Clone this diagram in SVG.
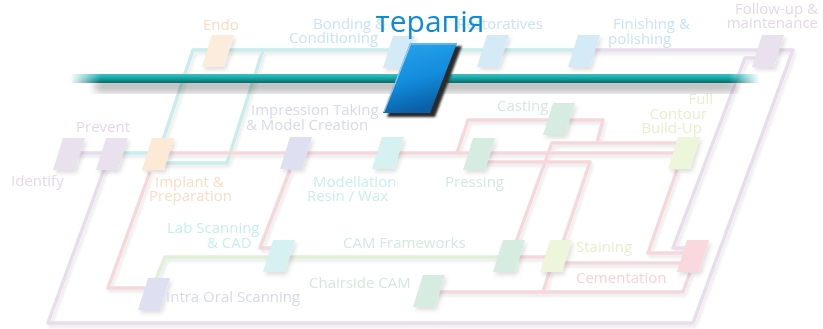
<svg xmlns="http://www.w3.org/2000/svg" width="823" height="329" viewBox="0 0 823 329">
<style>
  text { font-family: "Open Sans", "Noto Sans", "Liberation Sans", sans-serif; font-size: 15px; }
  .c { fill: none; stroke-width: 3.5; stroke-linejoin: round; stroke-linecap: butt; }
  .teal { stroke: #c9ecec; }
  .pink { stroke: #f6d8dc; }
  .lav { stroke: #e7ddec; }
  .grn { stroke: #e0efd6; }
  .t-lav { fill: #e3d9e9; }
  .t-peach { fill: #fbdcc4; }
  .t-blue { fill: #c8e4f5; }
  .t-lb { fill: #d8d8ef; }
  .t-cyan { fill: #c8eeee; }
  .t-grn { fill: #d2eadd; }
  .t-yg { fill: #e6f0cc; }
  .t-pink { fill: #f9d2d6; }
</style>
<defs>
  <path id="nd" d="M10,0 H32 L22,32 H0 Z"/>
  <filter id="sh" x="-50%" y="-50%" width="200%" height="200%">
    <feDropShadow dx="2" dy="3" stdDeviation="2" flood-color="#000" flood-opacity="0.13"/>
  </filter>
  <filter id="lsh" x="-10%" y="-10%" width="120%" height="130%">
    <feDropShadow dx="2" dy="3" stdDeviation="1.8" flood-color="#000" flood-opacity="0.08"/>
  </filter>
  <filter id="blur4"><feGaussianBlur stdDeviation="4"/></filter>
  <filter id="blur1"><feGaussianBlur stdDeviation="1.2"/></filter>
  <linearGradient id="barV" x1="0" y1="0" x2="0" y2="1">
    <stop offset="0" stop-color="#3cc4c4"/>
    <stop offset="0.45" stop-color="#16a6a6"/>
    <stop offset="1" stop-color="#086868"/>
  </linearGradient>
  <linearGradient id="barH" x1="70" y1="0" x2="760" y2="0" gradientUnits="userSpaceOnUse">
    <stop offset="0" stop-color="#fff" stop-opacity="0"/>
    <stop offset="0.045" stop-color="#fff" stop-opacity="1"/>
    <stop offset="0.955" stop-color="#fff" stop-opacity="1"/>
    <stop offset="1" stop-color="#fff" stop-opacity="0"/>
  </linearGradient>
  <mask id="barMask"><rect x="60" y="60" width="710" height="50" fill="url(#barH)"/></mask>
  <linearGradient id="blueG" x1="0" y1="0" x2="0.3" y2="1">
    <stop offset="0" stop-color="#2aa6ec"/>
    <stop offset="0.6" stop-color="#128cdc"/>
    <stop offset="1" stop-color="#0a60a8"/>
  </linearGradient>
</defs>

<g id="connectors" filter="url(#lsh)">
  <path class="c lav" d="M70,153 H110"/>
  <path class="c teal" d="M118,153 H152"/>
  <path class="c teal" d="M158,155 L193,50 H580"/>
  <path class="c teal" d="M160,163 H227 L263,50"/>
  <path class="c lav" d="M580,50 H770"/>
  <path class="c lav" d="M770,50 H793 L693,323 H48 L105,167"/>
  <path class="c lav" d="M690,248 H673 L745,58 H760"/>
  <path class="c pink" d="M165,153 H685"/>
  <path class="c pink" d="M457,153 L468,120 H603 L597,143"/>
  <path class="c pink" d="M515,245 L552,143 H690"/>
  <path class="c pink" d="M480,162 H590 L562,245"/>
  <path class="c pink" d="M150,172 L108,288 H145"/>
  <path class="c pink" d="M290,170 L260,248 H272"/>
  <path class="c pink" d="M515,257 H555"/>
  <path class="c pink" d="M555,263 H690"/>
  <path class="c pink" d="M428,292 H683 L690,273"/>
  <path class="c pink" d="M550,270 L543,292"/>
  <path class="c pink" d="M677,170 L648,253 H685"/>
  <path class="c grn" d="M155,282 L165,257 H505"/>
</g>

<g id="nodes" filter="url(#sh)">
  <g id="n-identify"><use href="#nd" x="53" y="138" fill="#e9e1ee"/></g>
  <g id="n-prevent"><use href="#nd" x="96" y="138" fill="#e9e1ee"/></g>
  <g id="n-implant"><use href="#nd" x="142" y="138" fill="#fce9d6"/></g>
  <g id="n-endo"><use href="#nd" x="202" y="35" fill="#fcecdc"/></g>
  <g id="n-impression"><use href="#nd" x="280" y="137" fill="#dedff0"/></g>
  <g id="n-modellation"><use href="#nd" x="372" y="137" fill="#d6f1f1"/></g>
  <g id="n-bonding"><use href="#nd" x="383" y="36" fill="#d5eaf7"/></g>
  <g id="n-restoratives"><use href="#nd" x="477" y="35" fill="#d5eaf7"/></g>
  <g id="n-finishing"><use href="#nd" x="568" y="35" fill="#d5eaf7"/></g>
  <g id="n-followup"><use href="#nd" x="752" y="35" fill="#e9e1ee"/></g>
  <g id="n-casting"><use href="#nd" x="543" y="103" fill="#d6ece0"/></g>
  <g id="n-pressing"><use href="#nd" x="463" y="138" fill="#d6ece0"/></g>
  <g id="n-fullcontour"><use href="#nd" x="668" y="137" fill="#edf5da"/></g>
  <g id="n-labscanning"><use href="#nd" x="263" y="240" fill="#d6f1f1"/></g>
  <g id="n-intraoral"><use href="#nd" x="138" y="278" fill="#dedff0"/></g>
  <g id="n-camframeworks"><use href="#nd" x="493" y="240" fill="#d6ece0"/></g>
  <g id="n-staining"><use href="#nd" x="540" y="240" fill="#edf5da"/></g>
  <g id="n-cementation"><use href="#nd" x="677" y="240" fill="#f9d9dd"/></g>
  <g id="n-chairside"><use href="#nd" x="413" y="275" fill="#d6ece0"/></g>
</g>

<g id="labels">
  <text class="t-lav" x="11" y="186">Identify</text>
  <text class="t-lav" x="76" y="132">Prevent</text>
  <text class="t-peach" x="203" y="30">Endo</text>
  <text class="t-blue" x="313" y="29">Bonding &amp;</text>
  <text class="t-blue" x="289" y="43">Conditioning</text>
  <text class="t-blue" x="457" y="29">Restoratives</text>
  <text class="t-blue" x="613" y="29">Finishing &amp;</text>
  <text class="t-blue" x="608" y="44">polishing</text>
  <text class="t-lav" x="818" y="14" text-anchor="end">Follow-up &amp;</text>
  <text class="t-lav" x="818" y="28" text-anchor="end">maintenance</text>
  <text class="t-lb" x="251" y="115">Impression Taking</text>
  <text class="t-lb" x="246" y="130">&amp; Model Creation</text>
  <text class="t-grn" x="497" y="111">Casting</text>
  <text class="t-yg" x="713" y="104" text-anchor="end">Full</text>
  <text class="t-yg" x="707" y="119" text-anchor="end">Contour</text>
  <text class="t-yg" x="702" y="133" text-anchor="end">Build-Up</text>
  <text class="t-peach" x="155" y="187">Implant &amp;</text>
  <text class="t-peach" x="149" y="201">Preparation</text>
  <text class="t-cyan" x="313" y="187">Modellation</text>
  <text class="t-cyan" x="307" y="201">Resin / Wax</text>
  <text class="t-grn" x="445" y="187">Pressing</text>
  <text class="t-cyan" x="167" y="233">Lab Scanning</text>
  <text class="t-cyan" x="207" y="248">&amp; CAD</text>
  <text class="t-grn" x="343" y="248">CAM Frameworks</text>
  <text class="t-grn" x="309" y="288">Chairside CAM</text>
  <text class="t-lb" x="166" y="302">Intra Oral Scanning</text>
  <text class="t-yg" x="576" y="252">Staining</text>
  <text class="t-pink" x="576" y="283">Cementation</text>
</g>

<g id="bar">
  <rect x="95" y="80" width="640" height="12" fill="#000" opacity="0.28" filter="url(#blur4)"/>
  <g mask="url(#barMask)">
    <rect x="70" y="74" width="690" height="9" fill="url(#barV)"/>
  </g>
</g>

<g id="center-node">
  <path d="M387,117 L414,46 H462 L435,117 Z" fill="#2c2c2c" filter="url(#blur1)"/>
  <path d="M383,113 L410,43 H457 L430,113 Z" fill="url(#blueG)"/>
  <path d="M384,112 L410.5,44 H456" fill="none" stroke="#ffffff" stroke-opacity="0.55" stroke-width="1.2"/>
</g>

<text x="430" y="32" text-anchor="middle" style="font-size:30px" fill="#0c8cd8">терапія</text>
</svg>
